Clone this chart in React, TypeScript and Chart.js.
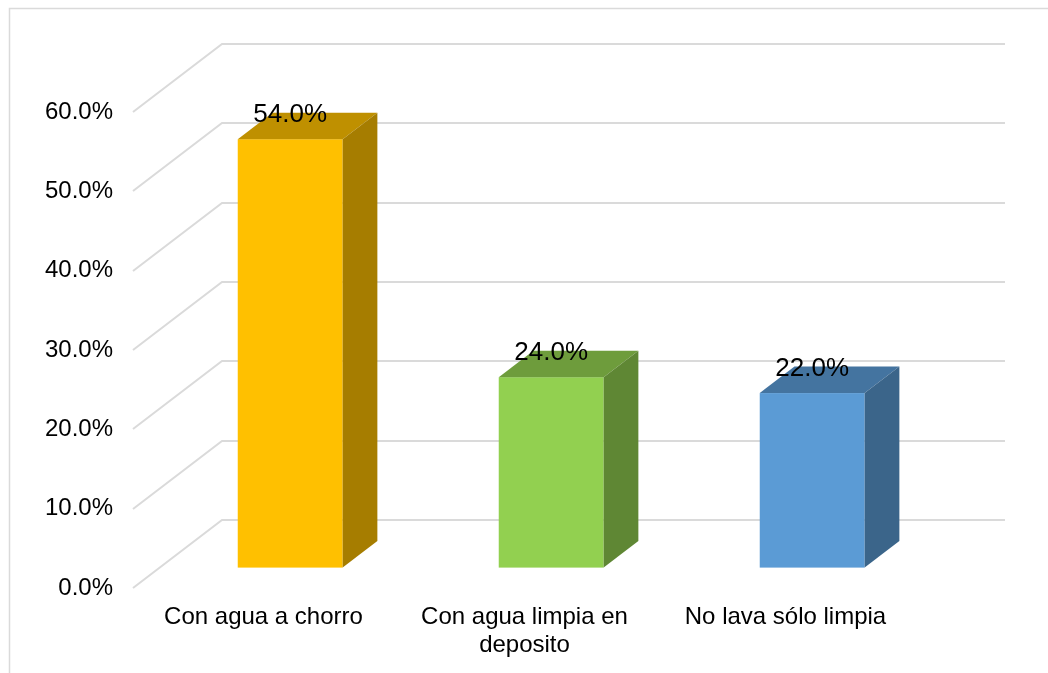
import React, { useEffect, useRef } from "react";
import { Chart, registerables } from "chart.js";

Chart.register(...registerables);

const categories: (string | string[])[] = [
  "Con agua a chorro",
  ["Con agua limpia en", "deposito"],
  "No lava sólo limpia",
];
const values: number[] = [54.0, 24.0, 22.0];
const barColors: string[] = ["#FFC000", "#92D050", "#5B9BD5"];
const yMin = 0;
const yMax = 60;
const yStep = 10;

const FONT = "'Liberation Sans', Arial, sans-serif";
const GRID = "#dadada";
// 3D geometry (floor depth vector and bar placement within depth)
const FLOOR_DX = 89;
const FLOOR_DY = -68;
const BAR_FRONT = 0.3;
const BAR_DEPTH = 0.39;

function shade(hex: string, k: number): string {
  const n = parseInt(hex.slice(1), 16);
  const r = Math.round(((n >> 16) & 255) * k);
  const g = Math.round(((n >> 8) & 255) * k);
  const b = Math.round((n & 255) * k);
  return `rgb(${r},${g},${b})`;
}

const frame3D = {
  id: "frame3D",
  beforeDraw(chart: any) {
    const ctx = chart.ctx;
    ctx.save();
    ctx.strokeStyle = GRID;
    ctx.lineWidth = 1.5;
    ctx.beginPath();
    ctx.moveTo(9.5, chart.height);
    ctx.lineTo(9.5, 8.5);
    ctx.lineTo(chart.width, 8.5);
    ctx.stroke();
    ctx.restore();
  },
  beforeDatasetsDraw(chart: any) {
    const ctx = chart.ctx;
    const area = chart.chartArea;
    const ys = chart.scales.y;
    ctx.save();
    ctx.strokeStyle = GRID;
    ctx.lineWidth = 2;
    ys.ticks.forEach((t: any) => {
      const y = Math.round(ys.getPixelForValue(t.value));
      ctx.beginPath();
      ctx.moveTo(area.left, y);
      ctx.lineTo(area.left + FLOOR_DX, y + FLOOR_DY);
      ctx.lineTo(area.right + FLOOR_DX, y + FLOOR_DY);
      ctx.stroke();
    });
    ctx.restore();
  },
  afterDatasetsDraw(chart: any) {
    const ctx = chart.ctx;
    const meta = chart.getDatasetMeta(0);
    const ox = FLOOR_DX * BAR_FRONT;
    const oy = FLOOR_DY * BAR_FRONT;
    const dx = FLOOR_DX * BAR_DEPTH;
    const dy = FLOOR_DY * BAR_DEPTH;
    ctx.save();
    meta.data.forEach((el: any, i: number) => {
      const p = el.getProps(["x", "y", "base", "width"], true);
      const l = p.x - p.width / 2 + ox;
      const r = p.x + p.width / 2 + ox;
      const top = p.y + oy;
      const bot = p.base + oy;
      const c = barColors[i];
      // front
      ctx.fillStyle = c;
      ctx.fillRect(l, top, r - l, bot - top);
      // top face
      ctx.fillStyle = shade(c, 0.75);
      ctx.beginPath();
      ctx.moveTo(l, top);
      ctx.lineTo(r, top);
      ctx.lineTo(r + dx, top + dy);
      ctx.lineTo(l + dx, top + dy);
      ctx.closePath();
      ctx.fill();
      // side face
      ctx.fillStyle = shade(c, 0.65);
      ctx.beginPath();
      ctx.moveTo(r, top);
      ctx.lineTo(r + dx, top + dy);
      ctx.lineTo(r + dx, bot + dy);
      ctx.lineTo(r, bot);
      ctx.closePath();
      ctx.fill();
    });
    // data labels
    ctx.fillStyle = "#000";
    ctx.font = `26px ${FONT}`;
    ctx.textAlign = "center";
    ctx.textBaseline = "middle";
    meta.data.forEach((el: any, i: number) => {
      const p = el.getProps(["x", "y"], true);
      ctx.fillText(values[i].toFixed(1) + "%", p.x + ox, p.y + oy - 24);
    });
    ctx.restore();
  },
};

export default function App() {
  const ref = useRef<HTMLCanvasElement | null>(null);
  useEffect(() => {
    if (!ref.current) return;
    const chart = new Chart(ref.current, {
      type: "bar",
      data: {
        labels: categories as any,
        datasets: [
          {
            data: values,
            backgroundColor: "rgba(0,0,0,0)",
            borderWidth: 0,
            barPercentage: 0.402,
            categoryPercentage: 1,
          },
        ],
      },
      options: {
        responsive: false,
        animation: false,
        layout: { padding: { top: 112, right: 132, left: 0, bottom: 0 } },
        plugins: { legend: { display: false }, tooltip: { enabled: false } },
        scales: {
          x: {
            grid: { display: false, drawTicks: false },
            border: { display: false },
            ticks: {
              color: "#000",
              font: { family: FONT, size: 24, lineHeight: 1.15 },
              padding: 16,
              maxRotation: 0,
              autoSkip: false,
            },
            afterFit: (s: any) => {
              s.height = 85;
            },
          },
          y: {
            min: yMin,
            max: yMax,
            grid: { display: false, drawTicks: false },
            border: { display: false },
            ticks: {
              stepSize: yStep,
              color: "#000",
              font: { family: FONT, size: 24 },
              padding: 20,
              callback: (v: any) => Number(v).toFixed(1) + "%",
            },
            afterFit: (s: any) => {
              s.width = 133;
            },
          },
        },
      },
      plugins: [frame3D],
    });
    return () => chart.destroy();
  }, []);
  return (
    <div style={{ position: "fixed", left: 0, top: 0, width: 1048, height: 673 }}>
      <canvas ref={ref} width={1048} height={673} style={{ display: "block" }} />
    </div>
  );
}
